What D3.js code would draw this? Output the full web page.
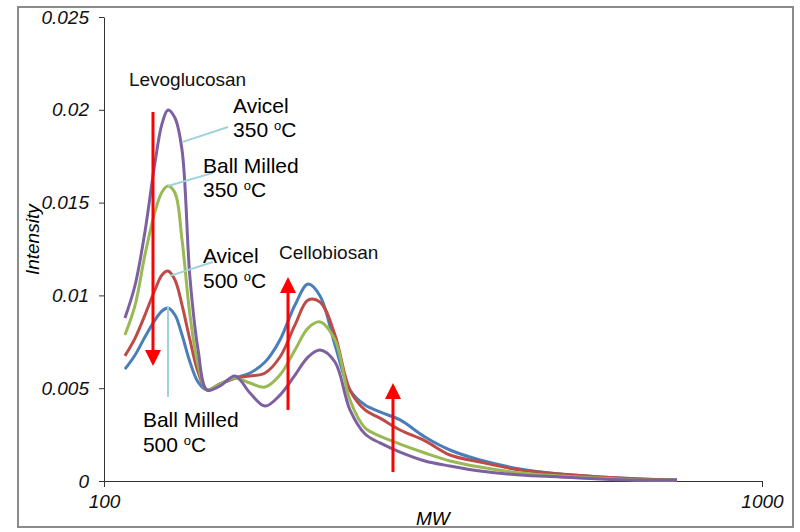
<!DOCTYPE html>
<html>
<head>
<meta charset="utf-8">
<script src="https://cdn.jsdelivr.net/npm/d3@7"></script>
<style>
  body { margin: 0; background: #fff; }
  svg { font-family: "Liberation Sans", Arial, sans-serif; }
  .axis text { font-size: 19px; font-style: italic; fill: #111; }
  .axis path, .axis line { stroke: #333; stroke-width: 1; }
  .note { font-size: 21px; fill: #000; }
  .peak { font-size: 19px; fill: #111; }
</style>
</head>
<body>
<div class="main-container"></div>
<script>
// molecular weight (shared x values for every series)
const mw = [107.6, 111.5, 115.4, 119.5, 122.5, 125.1, 128.2, 131.4, 135.1, 139.0,
  143.4, 150.1, 158.2, 166.7, 175.7, 185.1, 195.1, 204.2, 213.0, 224.4,
  236.5, 249.3, 262.7, 281.8, 307.5, 335.6, 372.8, 428.8, 493.2, 567.4, 652.7, 742.7];

const ballMilled500 = [0.00603, 0.00679, 0.00776, 0.00867, 0.00916, 0.00932, 0.00894, 0.00787, 0.00641, 0.00533,
  0.00490, 0.00523, 0.00555, 0.00582, 0.00641, 0.00760, 0.00948, 0.01061, 0.00997, 0.00733,
  0.00490, 0.00409, 0.00372, 0.00329, 0.00237, 0.00167, 0.00113, 0.00065, 0.00038, 0.00022, 0.00011, 0.00005];

const avicel500 = [0.00674, 0.00770, 0.00894, 0.01029, 0.01110, 0.01131, 0.01083, 0.00948, 0.00760, 0.00587,
  0.00490, 0.00523, 0.00555, 0.00566, 0.00582, 0.00668, 0.00841, 0.00975, 0.00964, 0.00787,
  0.00490, 0.00383, 0.00339, 0.00275, 0.00216, 0.00140, 0.00102, 0.00059, 0.00038, 0.00022, 0.00011, 0.00005];

const ballMilled350 = [0.00787, 0.00948, 0.01218, 0.01449, 0.01557, 0.01589, 0.01552, 0.01299, 0.00894, 0.00625,
  0.00490, 0.00523, 0.00555, 0.00528, 0.00506, 0.00571, 0.00706, 0.00824, 0.00857, 0.00760,
  0.00436, 0.00286, 0.00242, 0.00199, 0.00151, 0.00108, 0.00075, 0.00043, 0.00027, 0.00016, 0.00005, 0.00005];

const avicel350 = [0.00878, 0.01056, 0.01342, 0.01713, 0.01924, 0.01999, 0.01956, 0.01783, 0.01094, 0.00706,
  0.00490, 0.00512, 0.00566, 0.00474, 0.00404, 0.00463, 0.00571, 0.00668, 0.00706, 0.00641,
  0.00383, 0.00253, 0.00205, 0.00156, 0.00108, 0.00081, 0.00054, 0.00032, 0.00022, 0.00011, 0.00005, 0.00005];

const yTicks = [0, 0.005, 0.01, 0.015, 0.02, 0.025];
const xTicks = [100, 1000];

const series = [
  {name: "Ball Milled 500", values: ballMilled500, color: "#4a7ebb"},
  {name: "Avicel 500", values: avicel500, color: "#be4b48"},
  {name: "Ball Milled 350", values: ballMilled350, color: "#98b954"},
  {name: "Avicel 350", values: avicel350, color: "#7d60a0"}
];

let margin = {top: 17, right: 38, bottom: 51, left: 104},
  width = 658,
  height = 464;

const root = d3.select(".main-container")
  .append("svg")
  .attr("width", 800)
  .attr("height", 532);

// outer frame
root.append("rect")
  .attr("x", 18).attr("y", 7)
  .attr("width", 775).attr("height", 520)
  .attr("fill", "#fff")
  .attr("stroke", "#8a8a8a")
  .attr("stroke-width", 2);

const svg = root.append("g")
  .attr("transform", "translate(" + margin.left + "," + margin.top + ")");

let x = d3.scaleLog()
  .domain([100, 1000])
  .range([0, width]);

let y = d3.scaleLinear()
  .domain([0, 0.025])
  .range([height, 0]);

svg.append("g")
  .classed("axis", true)
  .call(d3.axisLeft(y)
    .tickValues(yTicks)
    .tickFormat(d => String(d))
    .tickSize(5)
    .tickSizeOuter(0)
    .tickPadding(10));

svg.append("g")
  .classed("axis", true)
  .attr("transform", "translate(0," + height + ")")
  .call(d3.axisBottom(x)
    .tickValues(xTicks)
    .tickFormat(d3.format("d"))
    .tickSize(6)
    .tickSizeOuter(0)
    .tickPadding(8));

// axis titles
svg.append("text")
  .attr("x", x(316))
  .attr("y", height + 44)
  .attr("text-anchor", "middle")
  .style("font-size", "19px")
  .style("font-style", "italic")
  .text("MW");

svg.append("text")
  .attr("transform", "translate(" + (-65) + "," + y(0.0130) + ")rotate(-90)")
  .attr("text-anchor", "middle")
  .style("font-size", "19px")
  .style("font-style", "italic")
  .text("Intensity");

const line = d3.line()
  .x((d, i) => x(mw[i]))
  .y(d => y(d))
  .curve(d3.curveCatmullRom.alpha(0.5));

series.forEach(s => {
  svg.append("path")
    .datum(s.values)
    .attr("fill", "none")
    .attr("stroke", s.color)
    .attr("stroke-width", 3)
    .attr("stroke-linejoin", "round")
    .attr("d", line);
});

// leader lines from labels to peaks
const leaders = [
  [[131.8, 0.01827], [154.3, 0.01907]],
  [[125.1, 0.01589], [146.4, 0.01660]],
  [[126.0, 0.01105], [146.4, 0.01180]],
  [[125.1, 0.00938], [125.1, 0.00453]]
];
leaders.forEach(l => {
  svg.append("line")
    .attr("x1", x(l[0][0])).attr("y1", y(l[0][1]))
    .attr("x2", x(l[1][0])).attr("y2", y(l[1][1]))
    .attr("stroke", "#9fd2dc")
    .attr("stroke-width", 2);
});

// sample labels: two lines, second has degree "oC"
const labels = [
  {mw: 157.1, v: 0.01983, v2: 0.01853, top: "Avicel", temp: "350"},
  {mw: 141.4, v: 0.01660, v2: 0.01530, top: "Ball Milled", temp: "350"},
  {mw: 141.4, v: 0.01175, v2: 0.01040, top: "Avicel", temp: "500"},
  {mw: 114.6, v: 0.00291, v2: 0.00156, top: "Ball Milled", temp: "500"}
];
labels.forEach(l => {
  svg.append("text").classed("note", true)
    .attr("x", x(l.mw)).attr("y", y(l.v))
    .text(l.top);
  const t = svg.append("text").classed("note", true)
    .attr("x", x(l.mw)).attr("y", y(l.v2));
  t.append("tspan").text(l.temp + " ");
  t.append("tspan").attr("dy", -7).style("font-size", "13px").text("o");
  t.append("tspan").attr("dy", 7).text("C");
});

svg.append("text").classed("peak", true)
  .attr("x", x(109.1)).attr("y", y(0.02128))
  .text("Levoglucosan");
svg.append("text").classed("peak", true)
  .attr("x", x(184.5)).attr("y", y(0.01196))
  .text("Cellobiosan");

// red trend arrows
const arrows = [
  {mw: 118.7, from: 0.01988, to: 0.0062},
  {mw: 190.4, from: 0.00383, to: 0.01099},
  {mw: 274.9, from: 0.00048, to: 0.00528}
];
arrows.forEach(a => {
  const ax = x(a.mw), y0 = y(a.from), y1 = y(a.to);
  const dir = y1 > y0 ? 1 : -1;
  svg.append("line")
    .attr("x1", ax).attr("y1", y0)
    .attr("x2", ax).attr("y2", y1 - dir * 12)
    .attr("stroke", "#ff0000")
    .attr("stroke-width", 3);
  svg.append("path")
    .attr("d", `M${ax - 8},${y1 - dir * 16}L${ax + 8},${y1 - dir * 16}L${ax},${y1}Z`)
    .attr("fill", "#ff0000");
});
</script>
</body>
</html>
